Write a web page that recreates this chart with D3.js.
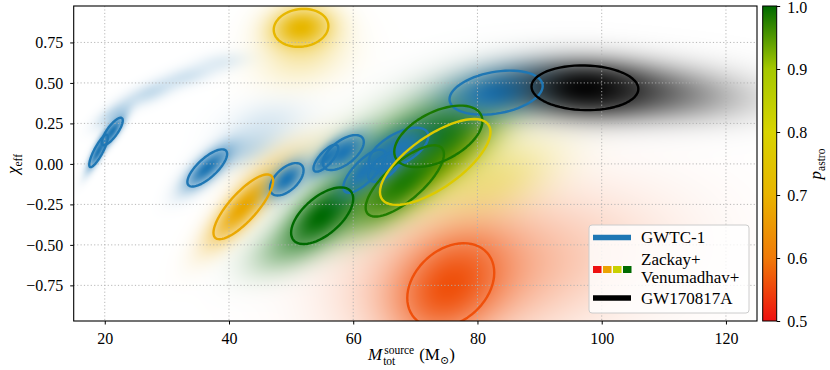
<!DOCTYPE html>
<html>
<head>
<meta charset="utf-8">
<script src="https://cdn.jsdelivr.net/npm/d3@7"></script>
<style>
body { margin: 0; background: #fff; }
text { font-family: "Liberation Serif", "DejaVu Serif", serif; fill: #000; }
</style>
</head>
<body>
<svg id="chart" width="830" height="370"></svg>
<script>
// events: total source mass, effective spin, half-extents of the 90% region, correlation
const eventNames = ["GW170608", "GW151226", "GW151012", "GW170104", "GW170814", "GW170809",
    "GW170818", "GW150914", "GW170823", "GW170729",
    "GW170202", "GW151216", "GW170121", "GW170727", "GW170304", "GW170425", "GW170403",
    "GW170817A"];
const eventCatalog = ["GWTC-1", "GWTC-1", "GWTC-1", "GWTC-1", "GWTC-1", "GWTC-1",
    "GWTC-1", "GWTC-1", "GWTC-1", "GWTC-1",
    "IAS", "IAS", "IAS", "IAS", "IAS", "IAS", "IAS",
    "GW170817A"];
const mTot = [19.0, 21.2, 36.5, 49.3, 55.6, 58.4, 61.8, 65.0, 67.3, 83.0,
    42.3, 51.6, 55.0, 68.3, 73.7, 73.2, 75.7, 97.3];
const chiEff = [0.08, 0.20, -0.025, -0.095, 0.035, 0.07, -0.045, -0.02, 0.093, 0.44,
    -0.265, 0.84, -0.32, -0.105, 0.17, 0.012, -0.75, 0.47];
const mSpread = [1.5, 1.7, 3.2, 2.7, 2.0, 3.3, 3.4, 2.6, 4.8, 7.5,
    4.8, 4.4, 5.0, 6.3, 7.1, 8.9, 7.0, 8.6];
const chiSpread = [0.10, 0.085, 0.115, 0.10, 0.083, 0.108, 0.133, 0.09, 0.13, 0.136,
    0.20, 0.117, 0.175, 0.22, 0.19, 0.265, 0.26, 0.138];
const corr = [0.85, 0.8, 0.75, 0.55, 0.75, 0.6, 0.75, 0.6, 0.6, 0.3,
    0.8, 0.1, 0.6, 0.75, 0.5, 0.7, 0.3, -0.05];
const pAstro = [1, 1, 1, 1, 1, 1, 1, 1, 1, 1,
    0.68, 0.71, 1.0, 0.98, 0.985, 0.77, 0.56, 1];

// broad tails of the posteriors (no contour drawn)
const tailOf = ["GW170608", "GW170608", "GW170608", "GW170608", "GW151012", "GW170104",
    "GW170202", "GW151216", "GW170403", "GW170403", "GW170425", "GW170121", "GW170121",
    "GW170304", "GW170817A", "GW170817A"];
const tailM = [21.5, 27.3, 33.3, 39.0, 42, 46, 50, 52, 88, 76, 83, 49, 60, 67, 100, 110];
const tailChi = [0.31, 0.44, 0.54, 0.63, 0.08, 0.25, 0.05, 0.66, -0.6, -0.72, -0.1, -0.52, -0.25, 0.1, 0.45, 0.42];
const tailMSpread = [2.0, 2.6, 2.8, 2.8, 3.5, 4.5, 6, 5, 16, 11, 7, 4.5, 6, 8, 12, 10];
const tailChiSpread = [0.06, 0.055, 0.05, 0.045, 0.08, 0.1, 0.12, 0.13, 0.32, 0.28, 0.18, 0.12, 0.15, 0.22, 0.12, 0.11];
const tailCorr = [0.7, 0.6, 0.5, 0.3, 0.5, 0.3, 0.6, 0.2, 0.2, 0.2, 0.5, 0.5, 0.5, 0.6, 0.0, -0.2];
const tailWeight = [0.3, 0.24, 0.18, 0.12, 0.25, 0.15, 0.18, 0.25, 0.28, 0.4, 0.4, 0.3, 0.35, 0.55, 0.5, 0.3];

const xTicks = [20, 40, 60, 80, 100, 120];
const yTicks = [-0.75, -0.5, -0.25, 0, 0.25, 0.5, 0.75];
const cbTicks = [0.5, 0.6, 0.7, 0.8, 0.9, 1.0];
const cmapStops = [0.5, 0.6, 0.7, 0.8, 0.9, 1.0];
const cmapColors = ["#ee1010", "#f07a08", "#e9b400", "#d8d400", "#a5c800", "#006a00"];
const legendSquares = [0.5, 0.67, 0.83, 1.0];

const pLeft = 73.7, pRight = 757, pTop = 6, pBottom = 321;

const svg = d3.select('#chart');
const x = d3.scaleLinear().domain([15, 125]).range([pLeft, pRight]);
const y = d3.scaleLinear().domain([-0.97, 0.975]).range([pBottom, pTop]);
const cmap = d3.scaleLinear().domain(cmapStops).range(cmapColors).clamp(true);

function eventColor(i) {
    if (eventCatalog[i] == "GWTC-1") return "#1f77b4";
    if (eventCatalog[i] == "GW170817A") return "#000000";
    return cmap(pAstro[i]);
}
function catRank(i) {
    // IAS events below, lowest p_astro first; then GWTC-1; GW170817A on top
    let c = eventCatalog[i];
    if (c == "IAS") return pAstro[i];
    return c == "GWTC-1" ? 2 : 3;
}

// ---- density image ----
let layers = [];
let tailOrder = d3.range(tailOf.length).sort((a, b) =>
    catRank(eventNames.indexOf(tailOf[a])) - catRank(eventNames.indexOf(tailOf[b])));
tailOrder.forEach(k => {
    let i = eventNames.indexOf(tailOf[k]);
    layers.push({m: tailM[k], c: tailChi[k], sm: tailMSpread[k], sc: tailChiSpread[k],
        rho: tailCorr[k], w: tailWeight[k], s: 1.0, col: d3.rgb(eventColor(i))});
});
let order = d3.range(eventNames.length).sort((a, b) => catRank(a) - catRank(b));
order.forEach(i => {
    layers.push({m: mTot[i], c: chiEff[i], sm: mSpread[i], sc: chiSpread[i],
        rho: corr[i], w: eventCatalog[i] == "GW170817A" ? 0.95 : 1.0, s: 0.8, col: d3.rgb(eventColor(i))});
});

const W = Math.round(pRight - pLeft), H = Math.round(pBottom - pTop);
const cv = document.createElement('canvas');
cv.width = W; cv.height = H;
const ctx = cv.getContext('2d');
const img = ctx.createImageData(W, H);
layers.forEach(L => { L.inv = 1 / (1 - L.rho * L.rho); L.k = 1 / (2 * L.s * L.s); });
for (let j = 0; j < H; ++j) {
    let py = y.invert(pTop + j + 0.5);
    for (let i = 0; i < W; ++i) {
        let px = x.invert(pLeft + i + 0.5);
        let r = 255, g = 255, b = 255;
        for (const L of layers) {
            let dm = (px - L.m) / L.sm, dc = (py - L.c) / L.sc;
            let q = (dm * dm - 2 * L.rho * dm * dc + dc * dc) * L.inv;
            if (q > 40) continue;
            let a = L.w * Math.exp(-q * L.k);
            r = r * (1 - a) + L.col.r * a;
            g = g * (1 - a) + L.col.g * a;
            b = b * (1 - a) + L.col.b * a;
        }
        let p = (j * W + i) * 4;
        img.data[p] = r; img.data[p + 1] = g; img.data[p + 2] = b; img.data[p + 3] = 255;
    }
}
ctx.putImageData(img, 0, 0);
svg.append('image')
    .attr('x', pLeft).attr('y', pTop)
    .attr('width', W).attr('height', H)
    .attr('preserveAspectRatio', 'none')
    .attr('href', cv.toDataURL());

// ---- grid ----
const grid = svg.append('g')
    .attr('stroke', '#b0b0b0').attr('stroke-width', 0.9).attr('stroke-dasharray', '1.2,2.2');
grid.selectAll('.gx').data(xTicks).enter().append('line')
    .attr('x1', d => x(d)).attr('x2', d => x(d)).attr('y1', pTop).attr('y2', pBottom);
grid.selectAll('.gy').data(yTicks).enter().append('line')
    .attr('y1', d => y(d)).attr('y2', d => y(d)).attr('x1', pLeft).attr('x2', pRight);

// ---- contours ----
svg.append('clipPath').attr('id', 'plotclip').append('rect')
    .attr('x', pLeft).attr('y', pTop).attr('width', pRight - pLeft).attr('height', pBottom - pTop);
function contourPoints(i) {
    let pts = [];
    let s = Math.sqrt(1 - corr[i] * corr[i]);
    for (let t = 0; t < 64; ++t) {
        let a = 2 * Math.PI * t / 64;
        let m = mTot[i] + mSpread[i] * Math.cos(a);
        let c = chiEff[i] + chiSpread[i] * (corr[i] * Math.cos(a) + s * Math.sin(a));
        pts.push([x(m), y(c)]);
    }
    return pts;
}
const line = d3.line().curve(d3.curveLinearClosed);
let contourOrder = d3.range(eventNames.length).sort((a, b) => {
    let rank = c => c == "GWTC-1" ? 0 : (c == "IAS" ? 1 : 2);
    return rank(eventCatalog[a]) - rank(eventCatalog[b]);
});
svg.append('g').attr('clip-path', 'url(#plotclip)')
    .selectAll('path').data(contourOrder).enter().append('path')
    .attr('d', i => line(contourPoints(i)))
    .attr('fill', 'none')
    .attr('stroke', i => eventColor(i))
    .attr('stroke-width', 2.4)
    .attr('stroke-linejoin', 'round');

// ---- axes ----
const xAxis = svg.append('g').attr('transform', `translate(0,${pBottom})`)
    .call(d3.axisBottom(x).tickValues(xTicks).tickSize(3.5).tickPadding(8));
const yAxis = svg.append('g').attr('transform', `translate(${pLeft},0)`)
    .call(d3.axisLeft(y).tickValues(yTicks).tickFormat(d3.format('.2f')).tickSize(3.5).tickPadding(7));
[xAxis, yAxis].forEach(a => {
    a.select('.domain').remove();
    a.selectAll('text').style('font-size', '16px').style('font-family', '"Liberation Serif", serif');
    a.selectAll('line').attr('stroke', '#000').attr('stroke-width', 1);
});
svg.append('rect')
    .attr('x', pLeft).attr('y', pTop).attr('width', pRight - pLeft).attr('height', pBottom - pTop)
    .attr('fill', 'none').attr('stroke', '#000').attr('stroke-width', 1.1);

// x label: M_tot^source (M_sun)
const lx = 368, lb = 360;
const tM = svg.append('text').attr('x', lx).attr('y', lb)
    .style('font-size', '17px').style('font-style', 'italic').text('M');
const wM = tM.node().getComputedTextLength();
const tSup = svg.append('text').attr('x', lx + wM + 2).attr('y', lb - 6)
    .style('font-size', '11.5px').text('source');
svg.append('text').attr('x', lx + wM + 1).attr('y', lb + 5)
    .style('font-size', '11.5px').text('tot');
const wSup = tSup.node().getComputedTextLength();
const tUnit = svg.append('text').attr('x', lx + wM + 2 + wSup + 5).attr('y', lb)
    .style('font-size', '17px');
tUnit.append('tspan').text('(M');
tUnit.append('tspan').attr('dy', 4).style('font-size', '11px').text('\u2299');
tUnit.append('tspan').attr('dy', -4).text(')');

// y label: chi_eff
const ty = svg.append('text').attr('transform', 'translate(18,164) rotate(-90)')
    .attr('text-anchor', 'middle').style('font-size', '17px');
ty.append('tspan').style('font-style', 'italic').text('\u03c7');
ty.append('tspan').attr('dy', 4).style('font-size', '11.5px').text('eff');

// ---- colorbar ----
const cbLeft = 762.7, cbRight = 776.7;
const cbScale = d3.scaleLinear().domain([0.5, 1.0]).range([pBottom, pTop]);
const grad = svg.append('defs').append('linearGradient').attr('id', 'cbgrad')
    .attr('x1', 0).attr('x2', 0).attr('y1', 1).attr('y2', 0);
grad.selectAll('stop').data(cmapStops).enter().append('stop')
    .attr('offset', d => (d - 0.5) / 0.5)
    .attr('stop-color', d => cmap(d));
svg.append('rect').attr('x', cbLeft).attr('y', pTop).attr('width', cbRight - cbLeft)
    .attr('height', pBottom - pTop).attr('fill', 'url(#cbgrad)')
    .attr('stroke', '#000').attr('stroke-width', 1);
const cbAxis = svg.append('g').attr('transform', `translate(${cbRight},0)`)
    .call(d3.axisRight(cbScale).tickValues(cbTicks).tickFormat(d3.format('.1f')).tickSize(3.5).tickPadding(7));
cbAxis.select('.domain').remove();
cbAxis.selectAll('text').style('font-size', '16px').style('font-family', '"Liberation Serif", serif');
cbAxis.selectAll('text').filter(d => d == 1.0).attr('dy', '0.42em');
cbAxis.selectAll('line').attr('stroke', '#000');
const tp = svg.append('text').attr('transform', 'translate(821,164) rotate(-90)')
    .attr('text-anchor', 'middle').style('font-size', '17px');
tp.append('tspan').style('font-style', 'italic').text('p');
tp.append('tspan').attr('dy', 4).style('font-size', '11.5px').text('astro');

// ---- legend ----
const lg = svg.append('g');
lg.append('rect').attr('x', 589).attr('y', 225).attr('width', 160).attr('height', 88)
    .attr('rx', 3).attr('fill', '#fff').attr('fill-opacity', 0.8)
    .attr('stroke', '#cccccc').attr('stroke-width', 1);
lg.append('line').attr('x1', 593).attr('x2', 631).attr('y1', 237.5).attr('y2', 237.5)
    .attr('stroke', '#1f77b4').attr('stroke-width', 5.5);
lg.append('text').attr('x', 641).attr('y', 243).style('font-size', '17px').text('GWTC-1');
lg.selectAll('.sq').data(legendSquares).enter().append('rect')
    .attr('x', (d, i) => 593 + i * 10).attr('y', 266).attr('width', 8.5).attr('height', 7)
    .attr('fill', d => cmap(d));
lg.append('text').attr('x', 641).attr('y', 265).style('font-size', '17px').text('Zackay+');
lg.append('text').attr('x', 641).attr('y', 283).style('font-size', '17px').text('Venumadhav+');
lg.append('line').attr('x1', 593).attr('x2', 631).attr('y1', 298).attr('y2', 298)
    .attr('stroke', '#000').attr('stroke-width', 5.5);
lg.append('text').attr('x', 641).attr('y', 304).style('font-size', '17px').text('GW170817A');
</script>
</body>
</html>
